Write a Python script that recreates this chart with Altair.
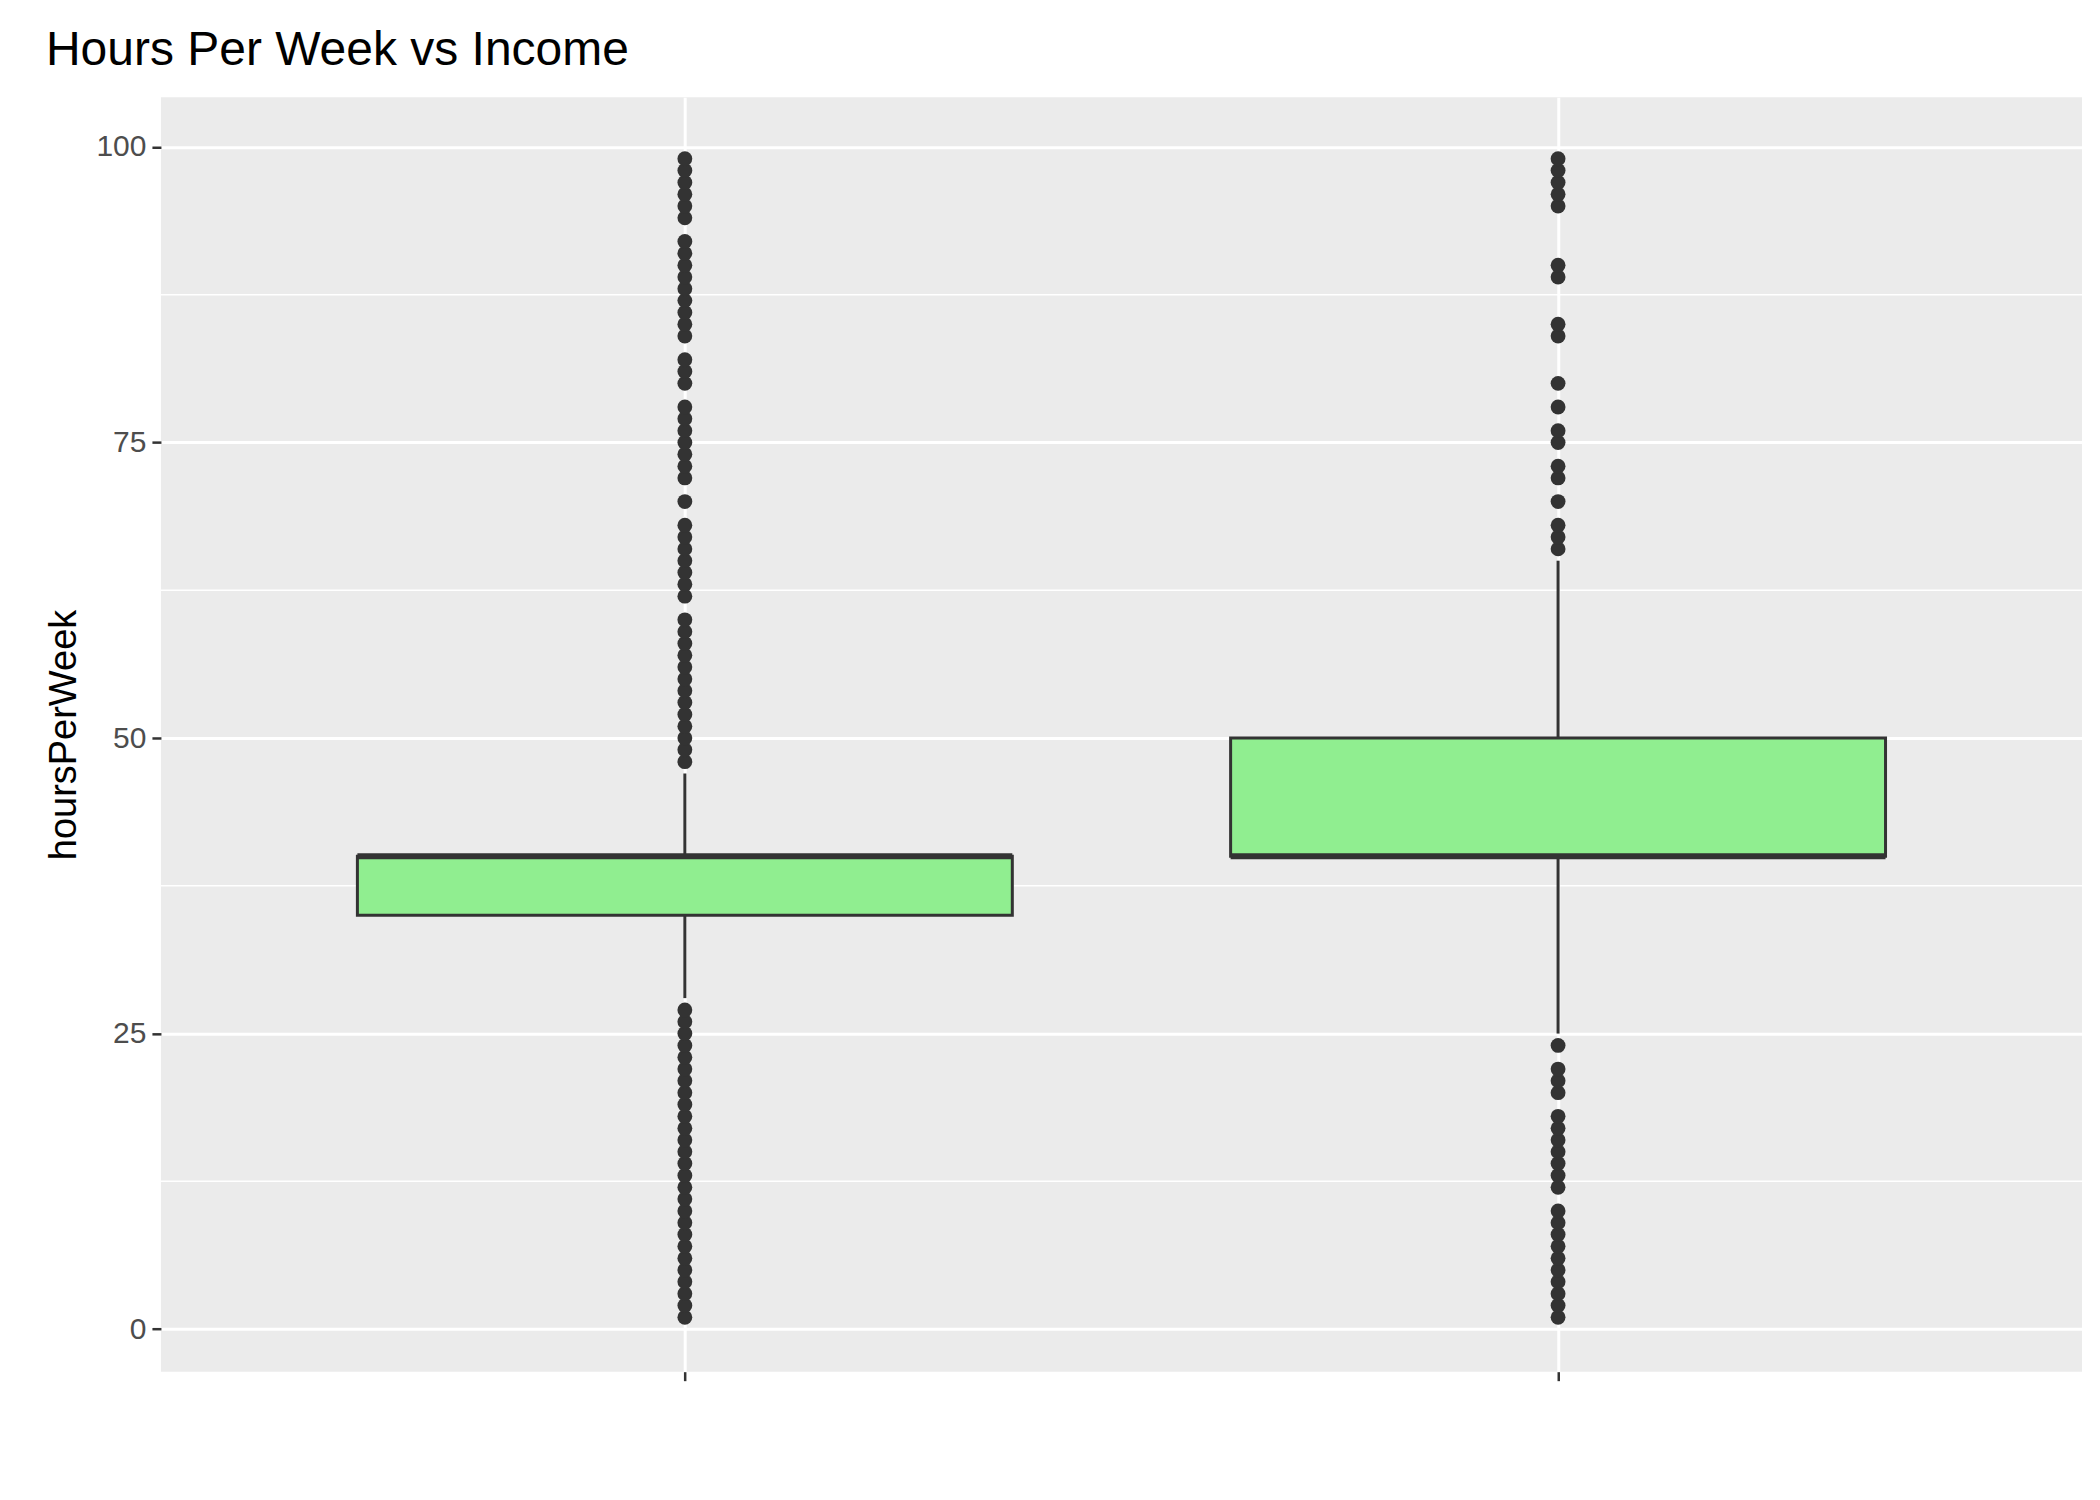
import altair as alt
import pandas as pd

categories = ["<=50K", ">50K"]
positions = [1, 2]
q1 = [35, 40]
median = [40, 40]
q3 = [40, 50]
whisker_low = [28, 25]
whisker_high = [47, 65]

out_low_le50 = list(range(1, 28))
out_high_le50 = (list(range(48, 61)) + list(range(62, 69)) + [70] + list(range(72, 79))
                 + [80, 81, 82] + list(range(84, 93)) + list(range(94, 100)))
out_low_gt50 = list(range(1, 11)) + list(range(12, 19)) + [20, 21, 22, 24]
out_high_gt50 = [66, 67, 68, 70, 72, 73, 75, 76, 78, 80, 84, 85, 89, 90, 95, 96, 97, 98, 99]

HALF = 0.375

boxes = pd.DataFrame({
    "income": categories, "pos": positions, "q1": q1, "median": median, "q3": q3,
    "lo": whisker_low, "hi": whisker_high,
})
boxes["left"] = boxes["pos"] - HALF
boxes["right"] = boxes["pos"] + HALF

pts = pd.DataFrame(
    [{"pos": 1, "hoursPerWeek": v} for v in out_low_le50 + out_high_le50]
    + [{"pos": 2, "hoursPerWeek": v} for v in out_low_gt50 + out_high_gt50]
)

xscale = alt.Scale(domain=[0.4, 2.6], nice=False, zero=False)
yscale = alt.Scale(domain=[-3.6, 104.2], nice=False, zero=False)

xaxis = alt.Axis(values=positions, labelExpr="datum.value == 1 ? '<=50K' : '>50K'",
                 grid=True, gridColor="white", gridWidth=3, title="income")
yaxis = alt.Axis(values=[0, 25, 50, 75, 100], grid=True, gridColor="white", gridWidth=3,
                 title="hoursPerWeek")

minor = alt.Chart(pd.DataFrame({"y": [12.5, 37.5, 62.5, 87.5]})).mark_rule(
    color="white", strokeWidth=1.5
).encode(y=alt.Y("y:Q", scale=yscale, axis=yaxis))

whisk_lo = alt.Chart(boxes).mark_rule(color="#333333", strokeWidth=3).encode(
    x=alt.X("pos:Q", scale=xscale, axis=xaxis),
    y=alt.Y("lo:Q", scale=yscale), y2="q1:Q")
whisk_hi = alt.Chart(boxes).mark_rule(color="#333333", strokeWidth=3).encode(
    x=alt.X("pos:Q", scale=xscale), y=alt.Y("q3:Q", scale=yscale), y2="hi:Q")

box = alt.Chart(boxes).mark_rect(fill="#90EE90", stroke="#333333", strokeWidth=3).encode(
    x=alt.X("left:Q", scale=xscale), x2="right:Q",
    y=alt.Y("q1:Q", scale=yscale), y2="q3:Q")

med = alt.Chart(boxes).mark_rule(color="#333333", strokeWidth=6).encode(
    x=alt.X("left:Q", scale=xscale), x2="right:Q",
    y=alt.Y("median:Q", scale=yscale))

points = alt.Chart(pts).mark_circle(color="#333333", opacity=1, size=220).encode(
    x=alt.X("pos:Q", scale=xscale), y=alt.Y("hoursPerWeek:Q", scale=yscale))

chart = alt.layer(minor, whisk_lo, whisk_hi, box, med, points).properties(
    width=1922, height=1275,
    autosize=alt.AutoSizeParams(type="none"),
    padding={"left": 153, "top": 89, "right": 10, "bottom": 10},
    title=alt.TitleParams("Hours Per Week vs Income", anchor="start", fontSize=48,
                          font="Liberation Sans", fontWeight="normal", color="black",
                          offset=22),
    background="white",
).configure_view(fill="#EBEBEB", stroke=None).configure_axis(
    labelFont="Liberation Sans", labelFontSize=30, labelColor="#4D4D4D",
    titleFont="Liberation Sans", titleFontSize=38, titleFontWeight="normal", titleColor="black",
    tickColor="#333333", tickSize=9, tickWidth=2.5, domain=False, labelPadding=6,
    titlePadding=12,
)

chart.save("out.html", embed_options={"renderer": "svg", "actions": False})
